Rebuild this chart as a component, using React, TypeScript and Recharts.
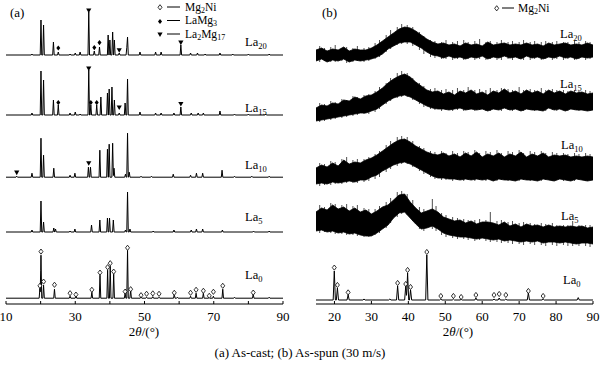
import React from "react";
import { ComposedChart, Line, Area, Scatter, XAxis, YAxis } from "recharts";

type P = [number, number];
type N = [number, number, number];

// ---------- (a) As-cast: peaks [2θ, intensity above own baseline] ----------
const castLa0Peaks: P[] = [
  [19.8, 5], [20.1, 21.5], [20.85, 6.5], [24.0, 4.5], [28.5, 1], [30.2, 1], [34.8, 3],
  [37.15, 11.5], [39.35, 14], [40.1, 16], [41.1, 12], [44.4, 2.5], [45.1, 24], [46.0, 4],
  [49.0, 0.8], [50.6, 0.5], [52.4, 0.8], [54.2, 0.5], [58.6, 2], [59.5, 0.5], [63.3, 1],
  [64.9, 2.5], [67.0, 2.5], [68.7, 0.5], [69.9, 1], [72.6, 4.5], [76, 0.5], [81.4, 2], [86, 0.5],
];
const castLa5Peaks: P[] = [
  [17.5, 1], [20.1, 15.5], [20.85, 5], [23.8, 2], [24.3, 1.5], [28.5, 0.5], [29.9, 1.5],
  [34.7, 3.5], [37.1, 6], [39.3, 7], [39.9, 7], [41.0, 6], [44.5, 1], [45.1, 20], [45.8, 1.5],
  [52.5, 0.5], [58.5, 1], [63.5, 1], [65.0, 1.5], [66.8, 1.5], [72.5, 1], [81.5, 0.5], [86, 0.5],
];
const castLa10Peaks: P[] = [
  [13.1, 0.5], [17.5, 2], [20.1, 19.5], [20.85, 11], [23.8, 4.5], [28.5, 1], [29.9, 2],
  [33.8, 5], [34.4, 5], [37.1, 13.5], [39.3, 14], [39.8, 16.5], [40.8, 17], [41.2, 4.5],
  [44.5, 1.5], [45.1, 22], [45.6, 2.5], [49, 0.5], [52, 0.5], [58.3, 1.5], [63.3, 1],
  [65, 2], [66.8, 2], [72.4, 3.5], [76, 0.5], [81, 0.5], [86, 0.5],
];
const castLa15Peaks: P[] = [
  [17.5, 1], [20.1, 22], [20.85, 17.5], [23.7, 7.5], [25.1, 5], [28.5, 1], [30.0, 1.5],
  [31.4, 0.5], [33.9, 22.5], [34.5, 5], [36.2, 5], [37.4, 9], [39.3, 11], [39.8, 13],
  [40.6, 14], [41.3, 7.5], [42.7, 1], [44.4, 6], [45.1, 18], [48.7, 1.5], [53.2, 1],
  [54.8, 1], [58.5, 1], [60.5, 4], [63.5, 1], [65.5, 1], [67, 1], [71.8, 2], [76, 0.5],
  [80, 0.5], [85, 0.5],
];
const castLa20Peaks: P[] = [
  [17.5, 0.5], [20.1, 17.5], [20.85, 15], [23.7, 6.5], [25.1, 1.5], [28.5, 0.5], [30.0, 1],
  [31.4, 1.5], [33.9, 21.5], [35.5, 2], [37.0, 4], [39.5, 10], [40.0, 7.5], [40.8, 11.5],
  [41.3, 7.5], [42.7, 1], [44.9, 4], [45.1, 9], [48.7, 1.5], [53.2, 1.5], [54.8, 1.5],
  [60.5, 5], [63.3, 1], [65.3, 1], [67.5, 0.5], [71.8, 1], [75.5, 0.5], [80, 0.5], [86, 0.5],
];
const castBaselines = { La0: 2.9, La5: 36, La10: 63.4, La15: 94.5, La20: 124.5 };

// phase markers [2θ, height above own baseline]
const castLa0Mg2Ni: P[] = [
  [19.8, 6.2], [20.1, 23.3], [20.85, 8.3], [24.0, 6.7], [28.5, 2.5], [30.2, 1.8], [34.8, 4.2],
  [37.15, 12.8], [39.35, 15.5], [40.1, 17.5], [41.1, 13.3], [44.4, 3.3], [45.1, 25.2], [46.0, 4.5],
  [49.0, 1.5], [50.6, 2.2], [52.4, 2.4], [54.2, 2.2], [58.6, 2.7], [63.3, 2.7], [64.9, 4.2],
  [67.0, 3.7], [68.7, 1.2], [69.9, 3.2], [72.6, 6.2], [81.4, 2.8],
];
const castLa10La2Mg17: P[] = [[13.1, 2.3], [33.9, 7]];
const castLa15LaMg3: P[] = [[25.1, 6.2], [34.5, 6.2], [36.2, 6.2]];
const castLa15La2Mg17: P[] = [[33.9, 23.3], [42.7, 3.8], [60.5, 5.5]];
const castLa20LaMg3: P[] = [[25.1, 3.5], [35.5, 3.7], [37.0, 6.2]];
const castLa20La2Mg17: P[] = [[33.9, 22.3], [42.7, 2.4], [60.5, 6.2]];

const castTicks = [10, 20, 30, 40, 50, 60, 70, 80, 90];

// ---------- (b) As-spun ----------
const spunLa0Peaks: P[] = [
  [19.95, 14.5], [20.8, 6], [23.7, 2.5], [28, 0.5], [35, 0.5], [37.1, 7], [39.3, 7],
  [39.8, 13.5], [40.6, 5], [45.0, 22.5], [48.8, 0.5], [52.2, 0.5], [54.3, 0.3], [58.3, 1],
  [63.2, 0.5], [64.6, 1], [66.4, 0.5], [72.5, 3.5], [76.5, 0.5], [86, 1.2],
];
const spunLa0Baseline = 2;
const spunLa0Mg2Ni: P[] = [
  [19.95, 16.2], [20.8, 7.5], [23.7, 3.8], [37.1, 8.5], [39.3, 8], [39.8, 15], [40.6, 6.5],
  [45.0, 24], [48.8, 2], [52.2, 2], [54.3, 1.5], [58.3, 2.5], [63.2, 2.5], [64.6, 3],
  [66.4, 2.5], [72.5, 4.5], [76.5, 2],
];

// noisy amorphous patterns: envelope of the dense band (lo, hi) at these 2θ
const spunX = [15, 16.5, 18, 19.5, 21, 22.5, 24, 25.5, 27, 28.5, 30, 31.5, 33, 34.5, 36, 37.5, 39, 40.5,
  42, 43.5, 45, 46.5, 48, 49.5, 51, 52.5, 54, 55.5, 57, 58.5, 60, 61.5, 63, 64.5, 66, 67.5, 69, 70.5,
  72, 73.5, 75, 76.5, 78, 79.5, 81, 82.5, 84, 85.5, 87, 88.5, 90];

const spunLa20Hi = [127, 128, 126.5, 127.5, 127, 128.5, 126.5, 127.5, 127, 127, 128, 129.5, 131.5, 133.5,
  135.5, 137.5, 138.5, 138, 136.5, 134.5, 132.5, 131, 130, 130.5, 129.5, 130, 129, 130.5, 129.5, 130, 129,
  131, 129.5, 130, 130.5, 129.5, 130, 129.5, 130.5, 129.5, 130, 129, 130.5, 129.5, 130, 130.5, 129.5, 130,
  129.5, 130.5, 129.5];
const spunLa20Lo = [121.5, 122.5, 121, 122, 121.5, 122.5, 121, 122, 121.5, 122, 122.5, 123.5, 125, 127.5,
  129, 130.5, 131, 131, 129.5, 128, 126, 124.5, 124, 123, 124, 123, 123.5, 122.5, 123.5, 123, 124, 122.5,
  123.5, 123, 124, 123, 123.5, 122.5, 124, 123, 123.5, 122.5, 123.5, 123, 124, 123, 123.5, 122.5, 123.5,
  123, 123.5];

const spunLa15Hi = [98, 99.5, 99, 100.5, 100, 102, 101.5, 103.5, 102.5, 104, 104.5, 106, 108, 110.5, 112.5,
  114, 115, 113.5, 111, 109, 107, 106, 106.5, 105, 106, 104.5, 106.5, 105.5, 107, 105, 106, 104.5, 106.5,
  105.5, 107.5, 105.5, 106.5, 105, 107, 105.5, 106.5, 105, 107, 105.5, 106.5, 105, 106.5, 105.5, 106, 105,
  105.5];
const spunLa15Lo = [91.5, 92, 92.5, 93, 93.5, 94, 94.5, 95, 95.5, 95.5, 96.5, 97.5, 99.5, 101.5, 103, 104,
  104.5, 103.5, 102, 100.5, 99, 98, 97.5, 97.5, 97, 97.5, 98, 97, 97.5, 97, 97.5, 96.5, 97.5, 97, 98, 97,
  97.5, 96.5, 97.5, 97, 97, 96.5, 98, 97, 97.5, 96.5, 97.5, 97, 97, 96.5, 97];

const spunLa10Hi = [68, 69.5, 68.5, 70.5, 69, 72, 70, 71, 70.5, 72, 73, 74.5, 76.5, 78.5, 80.5, 82, 82.5,
  81, 79, 77.5, 76, 75, 74.5, 75.5, 74, 75, 73.5, 75.5, 74, 76, 73.5, 75, 74, 75.5, 73.5, 75, 74, 76,
  73.5, 75, 74, 75.5, 73.5, 74.5, 74, 74.5, 73.5, 74, 73.5, 74, 73.5];
const spunLa10Lo = [60, 60.5, 60, 61, 60.5, 61, 61.5, 61, 62, 62, 63.5, 64.5, 66.5, 68, 69.5, 70.5, 71, 70,
  68.5, 67, 65.5, 64, 63, 63, 62.5, 62.5, 62, 62.5, 62, 62.5, 62, 62.5, 61.5, 62.5, 62, 62, 61.5, 62.5,
  62, 62, 61.5, 62.5, 62, 61.5, 62.5, 62, 61.5, 62.5, 62, 61.5, 62];

const spunLa5Hi = [46, 48, 47, 49.5, 47.5, 48.5, 46.5, 48, 46, 47, 45, 46.5, 48.5, 49.5, 52, 54.5, 55, 51,
  48, 45.5, 46.5, 47.5, 46, 43.5, 42.5, 41.5, 42, 40.5, 41.5, 40, 41, 41, 40.5, 39.5, 41, 39, 40, 38.5,
  40, 39, 39.5, 38.5, 39.5, 38.5, 39, 38.5, 39, 38.5, 39, 38, 38.5];
const spunLa5Lo = [36.5, 37, 36, 36.5, 35.5, 36, 35, 35.5, 34.5, 34, 34, 35.5, 37.5, 39.5, 43, 45.5, 46,
  43, 40, 37.5, 38, 39, 37.5, 35.5, 34.5, 34, 33.5, 33.5, 33, 32.5, 33, 32.5, 32, 32.5, 31.5, 32, 31.5,
  31, 31.5, 31, 31.5, 30.5, 31, 31, 30.5, 31, 30.5, 30, 30.5, 30.5, 30];

// individual noise spikes [2θ, low end, high end]
const spunLa20Spikes: N[] = [
  [16.0, 121, 129], [17.3, 121.5, 128], [19.0, 121, 128.5], [20.2, 121, 129.5], [22.0, 121.5, 128],
  [23.3, 120.5, 128.5], [25.0, 121, 128], [26.2, 121.5, 129], [28.0, 121, 128], [29.3, 121.5, 128.5],
  [31.0, 122.5, 130.5], [32.2, 123.5, 132], [34.0, 126, 134.5], [35.2, 127.5, 137], [37.0, 129.5, 138.5],
  [38.2, 130, 140], [39.7, 130, 139.5], [41.2, 129, 138.5], [43.0, 127, 136], [44.2, 125, 134],
  [46.0, 123.5, 132], [47.2, 123, 131.5], [49.0, 122.5, 131], [50.2, 122.5, 132], [52.0, 122, 131],
  [53.3, 122.5, 131.5], [55.0, 122, 132], [56.2, 122.5, 131], [58.0, 122, 131.5], [59.3, 122.5, 132.5],
  [61.0, 122, 131], [62.2, 122.5, 131.5], [64.0, 122, 131], [65.2, 122, 132], [67.0, 122.5, 131],
  [68.2, 122, 131.5], [70.0, 122.5, 131], [71.2, 122, 132], [73.0, 122, 131], [74.2, 122.5, 131.5],
  [76.0, 122, 131], [77.2, 122.5, 131.5], [79.0, 122, 131], [80.2, 122.5, 131.5], [82.0, 122, 131],
  [83.2, 122.5, 131], [85.0, 122, 131.5], [86.2, 122.5, 131], [88.0, 122, 131.5], [89.2, 122.5, 131],
];
const spunLa15Spikes: N[] = [
  [16.0, 91, 100.5], [17.3, 91.5, 100], [19.0, 92, 101.5], [20.2, 92.5, 101], [22.0, 93, 102.5],
  [23.3, 93.5, 102], [25.0, 94, 104], [26.2, 94.5, 103.5], [28.0, 95, 104.5], [29.3, 95, 105],
  [31.0, 96, 106.5], [32.2, 97.5, 108.5], [34.0, 100, 110.5], [35.2, 101.5, 113], [37.0, 103, 115.5],
  [38.2, 103.5, 116.5], [39.7, 103.5, 115.5], [41.2, 102, 113], [43.0, 100, 110.5], [44.2, 98.5, 109],
  [46.0, 97.5, 107.5], [47.2, 97, 108], [49.0, 96.5, 107], [50.2, 97, 107.5], [52.0, 96.5, 107],
  [53.3, 97, 108], [55.0, 96.5, 107], [56.2, 97, 108.5], [58.0, 96.5, 107], [59.3, 97, 107.5],
  [61.0, 96.5, 107], [62.2, 96.5, 108], [64.0, 97, 107], [65.2, 96.5, 108], [67.0, 97, 107.5],
  [68.2, 96.5, 107], [70.0, 97, 108.5], [71.2, 96.5, 107], [73.0, 97, 107.5], [74.2, 96.5, 107],
  [76.0, 97, 108], [77.2, 96.5, 107], [79.0, 97, 107.5], [80.2, 96.5, 107], [82.0, 97, 107],
  [83.2, 96.5, 106.5], [85.0, 97, 107], [86.2, 96.5, 106.5], [88.0, 97, 107], [89.2, 96.5, 106.5],
];
const spunLa10Spikes: N[] = [
  [16.0, 59, 70.5], [17.3, 59.5, 70], [19.0, 59.5, 71.5], [20.2, 60, 71], [22.0, 60, 72.5],
  [23.3, 60.5, 73.5], [25.0, 60.5, 72], [26.2, 60.5, 72.5], [28.0, 61, 72.5], [29.3, 61.5, 73.5],
  [31.0, 62.5, 75], [32.2, 63.5, 76.5], [34.0, 66, 79.5], [35.2, 67.5, 81.5], [37.0, 69, 83.5],
  [38.2, 70, 84], [39.7, 70, 83.5], [41.2, 68.5, 81.5], [43.0, 66.5, 79], [44.2, 65, 78],
  [46.0, 63.5, 76.5], [47.2, 62.5, 76], [49.0, 62, 76.5], [50.2, 62, 75.5], [52.0, 61.5, 76.5],
  [53.3, 62, 75.5], [55.0, 61.5, 76.5], [56.2, 62, 76], [58.0, 61.5, 77], [59.3, 62, 75.5],
  [61.0, 61.5, 76.5], [62.2, 62, 76], [64.0, 61.5, 77], [65.2, 62, 75.5], [67.0, 61.5, 76.5],
  [68.2, 62, 76], [70.0, 61.5, 77], [71.2, 62, 75.5], [73.0, 61.5, 76.5], [74.2, 62, 76],
  [76.0, 61.5, 76.5], [77.2, 62, 75.5], [79.0, 61.5, 76], [80.2, 62, 75.5], [82.0, 61.5, 75.5],
  [83.2, 62, 75], [85.0, 61.5, 75.5], [86.2, 62, 75], [88.0, 61.5, 75.5], [89.2, 62, 75],
];
const spunLa5Spikes: N[] = [
  [16.0, 35.5, 49.5], [17.3, 36, 48.5], [19.0, 35.5, 50.5], [20.2, 35, 50], [22.0, 35, 49.5],
  [23.3, 34.5, 50], [25.0, 34.5, 49], [26.2, 34, 49.5], [28.0, 33.5, 48], [29.3, 33.5, 47.5],
  [31.0, 34.5, 47.5], [32.2, 35.5, 49], [34.0, 38, 51], [35.2, 40.5, 53], [37.0, 43.5, 56],
  [38.2, 45, 56.5], [39.7, 44.5, 55], [41.2, 41.5, 52], [43.0, 37.5, 48.5], [44.2, 36.5, 47.5],
  [46.5, 37.5, 52.5], [47.5, 36.5, 49], [49.0, 34.5, 45.5], [50.2, 33.5, 44.5], [52.0, 33, 43.5],
  [53.3, 32.5, 43], [55.0, 32.5, 42.5], [56.2, 32, 42], [58.0, 31.5, 42], [59.3, 32, 42.5],
  [61.0, 31.5, 42], [62.2, 31, 46], [64.0, 31, 41.5], [65.2, 30.5, 42], [67.0, 30.5, 41],
  [68.2, 30, 41.5], [70.0, 30, 40.5], [71.2, 29.5, 41], [73.0, 30, 40.5], [74.2, 29.5, 40],
  [76.0, 29.5, 40.5], [77.2, 29, 40], [79.0, 29.5, 40.5], [80.2, 29, 39.5], [82.0, 29.5, 39.5],
  [83.2, 29, 39.5], [84.5, 29, 41.5], [86.2, 29, 39.5], [88.0, 29, 39.5], [89.2, 28.5, 39.5],
];

const spunTicks = [20, 30, 40, 50, 60, 70, 80, 90];

// ---------- helpers ----------
function buildTrace(peaks: P[], base: number, x0: number, x1: number, w: number) {
  const xs = new Set<number>([x0, x1]);
  peaks.forEach(([p]) => {
    xs.add(+(p - w).toFixed(3));
    xs.add(p);
    xs.add(+(p + w).toFixed(3));
  });
  return [...xs].sort((a, b) => a - b).map((x) => {
    let y = 0;
    for (const [p, h] of peaks) {
      const d = Math.abs(x - p);
      if (d < w) y = Math.max(y, h * (1 - d / w));
    }
    return { x, y: base + y };
  });
}
const markers = (list: P[], base: number) => list.map(([x, h]) => ({ x, y: base + h }));
const spikeRows = (list: N[]) =>
  list.flatMap(([x, lo, hi]) => [{ x, y: lo }, { x, y: hi }, { x, y: null as number | null }]);

const OpenDiamond = (p: any) => (
  <path d={`M${p.cx},${p.cy - 2.6}L${p.cx + 2},${p.cy}L${p.cx},${p.cy + 2.6}L${p.cx - 2},${p.cy}Z`}
    fill="#fff" stroke="#000" strokeWidth={0.8} />
);
const FilledDiamond = (p: any) => (
  <path d={`M${p.cx},${p.cy - 2.6}L${p.cx + 2},${p.cy}L${p.cx},${p.cy + 2.6}L${p.cx - 2},${p.cy}Z`} fill="#000" />
);
const DownTri = (p: any) => (
  <path d={`M${p.cx - 2.6},${p.cy - 2}L${p.cx + 2.6},${p.cy - 2}L${p.cx},${p.cy + 2.6}Z`} fill="#000" />
);

const FONT = "'Liberation Serif', 'Times New Roman', serif";
const tickStyle = { fill: "#000", fontSize: 13, fontFamily: FONT };

const castSeries = [
  { key: "La0", peaks: castLa0Peaks },
  { key: "La5", peaks: castLa5Peaks },
  { key: "La10", peaks: castLa10Peaks },
  { key: "La15", peaks: castLa15Peaks },
  { key: "La20", peaks: castLa20Peaks },
] as const;

const spunRows = spunX.map((x, i) => ({
  x,
  b20: [spunLa20Lo[i], spunLa20Hi[i]],
  b15: [spunLa15Lo[i], spunLa15Hi[i]],
  b10: [spunLa10Lo[i], spunLa10Hi[i]],
  b5: [spunLa5Lo[i], spunLa5Hi[i]],
}));
const spunSpikes = [spunLa20Spikes, spunLa15Spikes, spunLa10Spikes, spunLa5Spikes];

const Lbl = ({ x, y, n }: { x: number; y: number; n: string }) => (
  <text x={x} y={y} fontSize={12.5} fontFamily={FONT} fill="#000">
    La<tspan fontSize={8.5} dy={3}>{n}</tspan>
  </text>
);

export default function App() {
  const b = castBaselines;
  return (
    <div style={{ position: "absolute", left: 0, top: 0, width: 600, height: 369, background: "#fff" }}>
      <div style={{ position: "absolute", left: 0, top: 0 }}>
        <ComposedChart width={300} height={369} margin={{ top: 2, right: 17, bottom: 35, left: 6 }}>
          <XAxis type="number" dataKey="x" domain={[10, 90]} ticks={castTicks} interval={0}
            tickFormatter={(v: number) => (v % 20 === 10 ? String(v) : "")}
            tickSize={-3} tickMargin={11} height={30} stroke="#000" tick={tickStyle} allowDataOverflow />
          <XAxis xAxisId="top" orientation="top" type="number" domain={[10, 90]} height={0}
            tick={false} tickLine={false} stroke="#000" />
          <YAxis type="number" dataKey="y" domain={[0, 151]} width={0} tick={false} tickLine={false}
            stroke="#000" allowDataOverflow />
          <YAxis yAxisId="r" orientation="right" type="number" domain={[0, 151]} width={0} tick={false}
            tickLine={false} stroke="#000" />
          {castSeries.map((s) => (
            <Line key={s.key} data={buildTrace(s.peaks as P[], b[s.key], 10, 90, 0.22)} dataKey="y"
              type="linear" stroke="#000" strokeWidth={1} dot={false} isAnimationActive={false} />
          ))}
          <Scatter data={markers(castLa0Mg2Ni, b.La0)} dataKey="y" shape={OpenDiamond} isAnimationActive={false} />
          <Scatter data={markers(castLa10La2Mg17, b.La10)} dataKey="y" shape={DownTri} isAnimationActive={false} />
          <Scatter data={markers(castLa15LaMg3, b.La15)} dataKey="y" shape={FilledDiamond} isAnimationActive={false} />
          <Scatter data={markers(castLa15La2Mg17, b.La15)} dataKey="y" shape={DownTri} isAnimationActive={false} />
          <Scatter data={markers(castLa20LaMg3, b.La20)} dataKey="y" shape={FilledDiamond} isAnimationActive={false} />
          <Scatter data={markers(castLa20La2Mg17, b.La20)} dataKey="y" shape={DownTri} isAnimationActive={false} />
        </ComposedChart>
      </div>
      <div style={{ position: "absolute", left: 300, top: 0 }}>
        <ComposedChart width={300} height={369} data={spunRows} margin={{ top: 2, right: 7, bottom: 35, left: 16 }}>
          <XAxis type="number" dataKey="x" domain={[15, 90]} ticks={spunTicks} interval={0}
            tickSize={-3} tickMargin={11} height={30} stroke="#000" tick={tickStyle} allowDataOverflow />
          <XAxis xAxisId="top" orientation="top" type="number" domain={[15, 90]} height={0}
            tick={false} tickLine={false} stroke="#000" />
          <YAxis type="number" dataKey="y" domain={[0, 151]} width={0} tick={false} tickLine={false}
            stroke="#000" allowDataOverflow />
          <YAxis yAxisId="r" orientation="right" type="number" domain={[0, 151]} width={0} tick={false}
            tickLine={false} stroke="#000" />
          {(["b20", "b15", "b10", "b5"] as const).map((k) => (
            <Area key={k} dataKey={k} type="linear" stroke="#000" strokeWidth={0.8} fill="#000"
              fillOpacity={1} isAnimationActive={false} />
          ))}
          {spunSpikes.map((s, i) => (
            <Line key={"s" + i} data={spikeRows(s)} dataKey="y" type="linear" stroke="#000" strokeWidth={0.7}
              dot={false} connectNulls={false} isAnimationActive={false} />
          ))}
          <Line data={buildTrace(spunLa0Peaks, spunLa0Baseline, 15, 90, 0.3)} dataKey="y" type="linear"
            stroke="#000" strokeWidth={1} dot={false} isAnimationActive={false} />
          <Scatter data={markers(spunLa0Mg2Ni, spunLa0Baseline)} dataKey="y" shape={OpenDiamond}
            isAnimationActive={false} />
        </ComposedChart>
      </div>
      <svg width={600} height={369} style={{ position: "absolute", left: 0, top: 0, pointerEvents: "none" }}>
        <g fontFamily={FONT} fill="#000">
          <text x={10} y={17} fontSize={13}>(a)</text>
          <text x={322} y={17} fontSize={13}>(b)</text>
          <OpenDiamond cx={160} cy={7.3} />
          <line x1={167} x2={180} y1={7} y2={7} stroke="#000" strokeWidth={1} />
          <text x={185} y={10.5} fontSize={11.5}>Mg<tspan fontSize={8} dy={2}>2</tspan><tspan dy={-2}>Ni</tspan></text>
          <FilledDiamond cx={160} cy={21.5} />
          <line x1={167} x2={180} y1={20.5} y2={20.5} stroke="#000" strokeWidth={1} />
          <text x={185} y={24} fontSize={11.5}>LaMg<tspan fontSize={8} dy={2}>3</tspan></text>
          <DownTri cx={160} cy={34.5} />
          <line x1={167} x2={180} y1={34} y2={34} stroke="#000" strokeWidth={1} />
          <text x={185} y={37.5} fontSize={11.5}>La<tspan fontSize={8} dy={2}>2</tspan><tspan dy={-2}>Mg</tspan><tspan fontSize={8} dy={2}>17</tspan></text>
          <OpenDiamond cx={496.7} cy={8.3} />
          <line x1={502} x2={514} y1={8} y2={8} stroke="#000" strokeWidth={1} />
          <text x={518} y={11.5} fontSize={11.5}>Mg<tspan fontSize={8} dy={2}>2</tspan><tspan dy={-2}>Ni</tspan></text>
        </g>
        <Lbl x={245} y={46} n="20" />
        <Lbl x={245} y={112} n="15" />
        <Lbl x={245} y={169} n="10" />
        <Lbl x={245} y={221} n="5" />
        <Lbl x={245} y={279} n="0" />
        <Lbl x={560} y={38} n="20" />
        <Lbl x={560} y={88} n="15" />
        <Lbl x={561} y={149} n="10" />
        <Lbl x={561} y={220} n="5" />
        <Lbl x={563} y={284} n="0" />
        <text x={144} y={336} fontSize={13} fontFamily={FONT} textAnchor="middle">2<tspan fontStyle="italic">θ</tspan>/(°)</text>
        <text x={458} y={336} fontSize={13} fontFamily={FONT} textAnchor="middle">2<tspan fontStyle="italic">θ</tspan>/(°)</text>
        <text x={300} y={357} fontSize={13} fontFamily={FONT} textAnchor="middle">(a) As-cast; (b) As-spun (30 m/s)</text>
      </svg>
    </div>
  );
}
